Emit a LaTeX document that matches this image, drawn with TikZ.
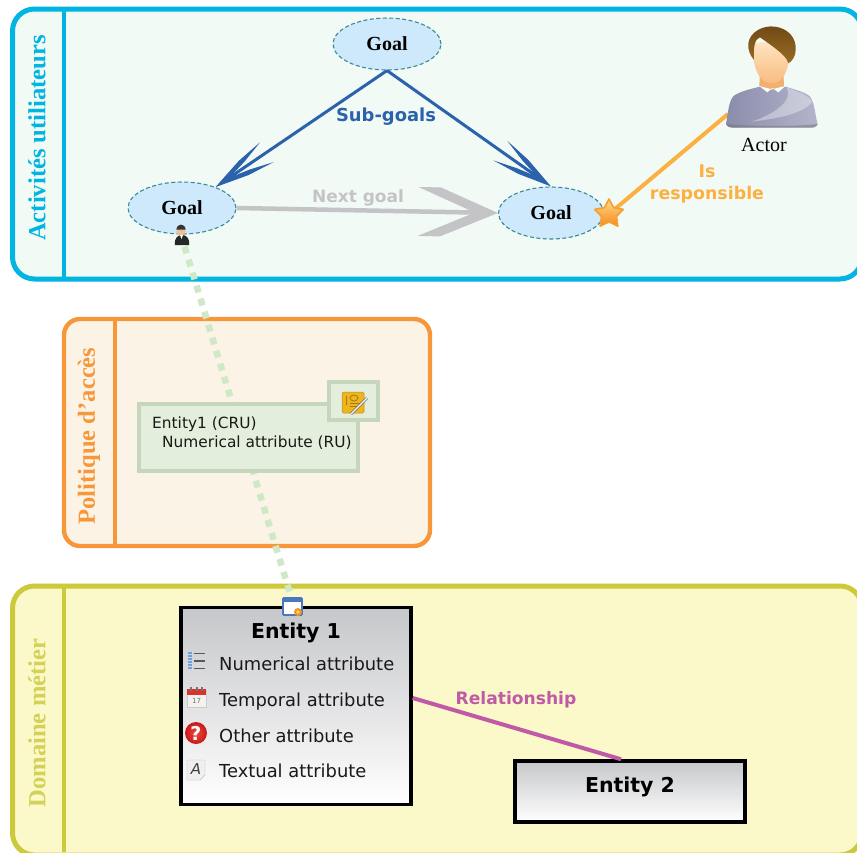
\documentclass[tikz,border=0pt]{standalone}
\usepackage{fontspec}
\setmainfont{Liberation Serif}
\newfontfamily\lsans{DejaVu Sans}
\usetikzlibrary{arrows.meta,shapes.geometric,calc}
\definecolor{cyanl}{HTML}{00B5E2}
\definecolor{orgl}{HTML}{F8973A}
\definecolor{yell}{HTML}{CCC93A}
\definecolor{blueg}{HTML}{2A62AB}
\definecolor{greyg}{HTML}{C4C4C6}
\definecolor{amber}{HTML}{FBB040}
\definecolor{magl}{HTML}{C05AA6}
\definecolor{greend}{HTML}{CFE8C5}
\newcommand{\hexcol}[1]{\definecolor{#1}{HTML}{#1}}
\hexcol{F2FAF6}\hexcol{FBF4E6}\hexcol{FBF9C9}\hexcol{FFD98A}\hexcol{F58A1E}\hexcol{F5A030}
\hexcol{8A8CAC}\hexcol{B4B5CB}\hexcol{F0B070}\hexcol{FFE6C4}\hexcol{F8BC80}\hexcol{6F4A15}
\hexcol{9A6A24}\hexcol{F0C090}\hexcol{EDB51F}\hexcol{C08A10}\hexcol{A87A10}\hexcol{4A78C0}
\hexcol{F0961E}\hexcol{FFD860}\hexcol{6F9FDC}\hexcol{F4F2EE}\hexcol{D8342C}\hexcol{F04A3F}\hexcol{C81818}\hexcol{EFEFEF}
\pgfdeclarearrow{
  name=FlatBarb,
  parameters={\the\pgfarrowlength,\the\pgfarrowwidth},
  setup code={
    \pgfarrowssettipend{0pt}
    \pgfarrowssetbackend{-\pgfarrowlength}
    \pgfarrowssetlineend{-.25\pgfarrowlength}
    \pgfarrowssavethe\pgfarrowlength
    \pgfarrowssavethe\pgfarrowwidth
  },
  drawing code={
    \pgfpathmoveto{\pgfqpoint{0pt}{0pt}}
    \pgfpathlineto{\pgfqpoint{-.72\pgfarrowlength}{.5\pgfarrowwidth}}
    \pgfpathlineto{\pgfqpoint{-\pgfarrowlength}{.5\pgfarrowwidth}}
    \pgfpathlineto{\pgfqpoint{-.29\pgfarrowlength}{0pt}}
    \pgfpathlineto{\pgfqpoint{-\pgfarrowlength}{-.5\pgfarrowwidth}}
    \pgfpathlineto{\pgfqpoint{-.72\pgfarrowlength}{-.5\pgfarrowwidth}}
    \pgfpathclose
    \pgfusepathqfill
  },
  defaults={length=80pt,width=48pt}
}
\pgfdeclarearrow{
  name=ThinBarb,
  parameters={\the\pgfarrowlength,\the\pgfarrowwidth},
  setup code={
    \pgfarrowssettipend{0pt}
    \pgfarrowssetbackend{-\pgfarrowlength}
    \pgfarrowssetlineend{-.28\pgfarrowlength}
    \pgfarrowssavethe\pgfarrowlength
    \pgfarrowssavethe\pgfarrowwidth
  },
  drawing code={
    \pgfpathmoveto{\pgfqpoint{0pt}{0pt}}
    \pgfpathlineto{\pgfqpoint{-.55\pgfarrowlength}{.36\pgfarrowwidth}}
    \pgfpathlineto{\pgfqpoint{-\pgfarrowlength}{.5\pgfarrowwidth}}
    \pgfpathlineto{\pgfqpoint{-.62\pgfarrowlength}{.2\pgfarrowwidth}}
    \pgfpathlineto{\pgfqpoint{-.27\pgfarrowlength}{0pt}}
    \pgfpathlineto{\pgfqpoint{-.62\pgfarrowlength}{-.2\pgfarrowwidth}}
    \pgfpathlineto{\pgfqpoint{-\pgfarrowlength}{-.5\pgfarrowwidth}}
    \pgfpathlineto{\pgfqpoint{-.55\pgfarrowlength}{-.36\pgfarrowwidth}}
    \pgfpathclose
    \pgfusepathqfill
  },
  defaults={length=62pt,width=24pt}
}
\definecolor{goalfill}{HTML}{CDE9FB}
\definecolor{goaledge}{HTML}{3A8A94}
\definecolor{entgrey}{HTML}{C6C7CA}
\definecolor{polgreen}{HTML}{C5D6BD}
\definecolor{polfill}{HTML}{E3EFDC}
\tikzset{
  panel/.style={line width=5pt,rounded corners=22pt},
  divider/.style={line width=4.8pt},
  sidelab/.style={rotate=90,font=\fontsize{24.6}{28}\selectfont\bfseries},
  goalnode/.style={ellipse,draw=goaledge,fill=goalfill,dash pattern=on 4pt off 2.5pt,line width=1.1pt,minimum width=108pt,minimum height=52pt,inner sep=0pt,font=\fontsize{20}{22}\selectfont\bfseries},
  sublink/.style={line width=3pt,draw=blueg,-{ThinBarb[length=62pt,width=24pt]}},
  boldlab/.style={font=\lsans\fontsize{#1}{22}\selectfont\bfseries},
  entity/.style={draw=black,line width=3.5pt,top color=entgrey,bottom color=white,minimum width=230pt,inner sep=0pt},
  enttitle/.style={font=\lsans\fontsize{20.5}{24}\selectfont\bfseries},
  attr/.style={anchor=base west,inner sep=0pt,font=\lsans\fontsize{17.9}{20}\selectfont,text=black!90},
  poltext/.style={anchor=base west,inner sep=0pt,font=\lsans\fontsize{15.4}{18}\selectfont,text=black!90},
  polbox/.style={draw=polgreen,fill=polfill,line width=4pt,inner sep=0pt},
  starnode/.style={star,star points=5,star point ratio=1.9,minimum size=30pt,inner sep=0pt,top color=FFD98A,bottom color=F58A1E,draw=F5A030,line width=1.6pt,line join=round},
}
\begin{document}
\begin{tikzpicture}[x=1pt,y=-1pt]
\useasboundingbox (0,0) rectangle (857,852);
\clip (0,0) rectangle (857,852);
\fill[white] (0,0) rectangle (857,852);
% panels
\draw[panel,draw=cyanl,fill=F2FAF6] (12.5,9) rectangle (862,279);
\draw[cyanl,divider] (64,9) -- (64,279);
\draw[panel,line width=4.4pt,draw=orgl,fill=FBF4E6,rounded corners=16pt] (64,319) rectangle (430,546);
\draw[orgl,line width=4.4pt] (115,319) -- (115,546);
\draw[panel,draw=yell,fill=FBF9C9] (12.5,586) rectangle (862,855);
\draw[yell,divider] (64,586) -- (64,852);
\node[sidelab,text=cyanl] (lab1) at (37,138) {Activités utiliateurs};
\node[sidelab,text=orgl] (lab2) at (89,436) {Politique d’accès};
\node[sidelab,text=yell!85!white] (lab3) at (37,723) {Domaine métier};
% dotted connector behind the access box
\coordinate (pers) at (182,238);
\coordinate (e1port) at (292,600);
\draw[greend,line width=6.5pt,dash pattern=on 7pt off 6.6pt,dash phase=4.6pt] (pers) -- (e1port);
% goals
\node[goalnode] (g1) at (387,44) {Goal};
\node[goalnode] (g2) at (182,208) {Goal};
\node[goalnode,minimum width=105pt] (g3) at (551,213) {Goal};
\draw[sublink] (g1.south) -- (g2.32);
\draw[sublink] (g1.south) -- (g3.north);
\draw[greyg,line width=4.5pt,-{FlatBarb[length=80pt,width=49pt]}] (g2.east) -- (g3.west);
\node[boldlab=17.9,text=blueg] (lsub) at (386,117) {Sub-goals};
\node[boldlab=17,text=greyg] (lnext) at (358,198) {Next goal};
% star + responsibility
\coordinate (hand) at (728,114);
\coordinate (stc) at (609,214);
\draw[amber,line width=4pt] (hand) -- (stc);
\node[starnode] (st) at (stc) {};
\node[text=amber,align=center,boldlab=17.4] (lresp) at (707,184) {Is\\responsible};
% actor picture
\begin{scope}[shift={(680,0)},x=.3333pt,y=-.3333pt]
  \path[left color=8A8CAC,right color=B4B5CB] (138,372) .. controls (145,330) and (148,295) .. (165,285) .. controls (190,270) and (225,265) .. (245,258) -- (310,258) .. controls (340,268) and (375,275) .. (390,290) .. controls (405,310) and (405,345) .. (413,372) .. controls (410,382) and (400,383) .. (390,383) -- (160,383) .. controls (150,383) and (140,380) .. (138,372) -- cycle;
  \fill[white,opacity=.35] (215,365) .. controls (300,355) and (370,340) .. (397,305) .. controls (385,285) and (350,272) .. (320,263) .. controls (340,300) and (290,340) .. (215,365) -- cycle;
  \fill[black!55,opacity=.5] (140,372) .. controls (145,382) and (150,383) .. (160,383) -- (390,383) .. controls (400,383) and (410,382) .. (413,372) .. controls (350,380) and (200,380) .. (140,372) -- cycle;
  \fill[F0B070] (240,215) -- (310,215) -- (312,258) -- (275,270) -- (238,258) -- cycle;
  \fill[white] (238,258) -- (262,277) -- (277,264) -- (295,277) -- (316,258) -- (275,268) -- cycle;
  \path[top color=FFE6C4,bottom color=F8BC80] (220,130) .. controls (215,190) and (232,250) .. (275,250) .. controls (310,250) and (325,210) .. (327,170) -- (300,120) -- cycle;
  \path[top color=6F4A15,bottom color=9A6A24] (205,130) .. controls (210,95) and (250,75) .. (285,80) .. controls (325,85) and (350,115) .. (347,150) .. controls (347,170) and (335,185) .. (325,190) .. controls (320,170) and (295,150) .. (240,112) .. controls (225,118) and (220,135) .. (222,180) .. controls (210,165) and (203,150) .. (205,130) -- cycle;
\end{scope}
\node[font=\fontsize{20}{22}\selectfont] (lactor) at (764,145) {Actor};
% small person at the goal
\fill[black!85] (175,245) .. controls (174,238) and (178,235) .. (182,235) .. controls (186,235) and (190,238) .. (189,245) -- cycle;
\fill[F0C090] (181,231) circle (4.6pt);
\fill[black!80] (176.4,229.5) .. controls (177,223) and (185,223) .. (185.6,229.5) -- cycle;
\fill[white] (180,235) -- (183,235) -- (181.5,239) -- cycle;
% access policy
\node[polbox,minimum width=219pt,minimum height=67pt] (pol) at (248.5,437.5) {};
\node[polbox,minimum width=49pt,minimum height=38pt] (polic) at (353.5,401) {};
\fill[EDB51F,draw=C08A10,line width=.5pt,rounded corners=1.5pt] (342,392) rectangle (364,413);
\draw[A87A10,line width=.8pt] (346,396) -- (346,405) (350,403) -- (360,403) (350,406) -- (358,406);
\draw[A87A10,line width=.8pt] (354,398) ellipse (4pt and 3pt);
\draw[black!60,line width=2.6pt] (351,414) -- (367,398);
\draw[white,line width=1.2pt] (351,414) -- (367,398);
\node[poltext] (pol1) at (152,428.5) {Entity1 (CRU)};
\node[poltext] (pol2) at (162,447.5) {Numerical attribute (RU)};
% entities
\node[entity,minimum height=197pt] (e1) at (296,706) {};
\node[entity,minimum height=61pt] (e2) at (630,791.5) {};
\draw[magl,line width=4pt] ([yshift=8pt]e1.east) -- ([xshift=-9pt]e2.north);
\node[boldlab=17.1,text=magl] (lrel) at (516,700) {Relationship};
\node[enttitle] (e1t) at (296,633) {Entity 1};
\node[enttitle] (e2t) at (630,787) {Entity 2};
\node[attr] (a1) at (219,670) {Numerical attribute};
\node[attr] (a2) at (219,706) {Temporal attribute};
\node[attr] (a3) at (219,742) {Other attribute};
\node[attr] (a4) at (219,777) {Textual attribute};
% entity icon
\draw[4A78C0,line width=1.6pt,fill=white,rounded corners=.8pt] (283,598) rectangle (302,615);
\fill[4A78C0] (283,598) rectangle (302,601.5);
\fill[F0961E] (298,612) circle (4pt);
\fill[FFD860] (298,612) circle (1.8pt);
% numeric icon
\foreach \yy in {653.5,661,668.5} \draw[black!65,line width=1.1pt] (194,\yy) -- (205,\yy);
\foreach \yy in {653,656,659,662,665,668} \draw[6F9FDC,line width=1.6pt] (187.5,\yy) -- (191.5,\yy);
% calendar icon
\fill[F4F2EE,draw=black!20,line width=.4pt] (187,690) rectangle (206,707);
\fill[D8342C] (187,689) rectangle (206,695);
\foreach \xa/\xb in {190/192,195.5/197.5,201/203} \fill[black!55] (\xa,686.5) rectangle (\xb,691);
\node[font=\lsans\fontsize{7}{8}\selectfont,text=black!55,inner sep=0pt] (cal) at (196.5,701) {17};
% question icon
\node[circle,minimum size=22pt,inner sep=0pt,inner color=F04A3F,outer color=C81818,font=\lsans\fontsize{19}{20}\selectfont\bfseries,text=white] (q) at (196,733) {?};
% textual icon
\fill[EFEFEF,draw=black!25,line width=.4pt] (187,760) -- (205,760) -- (205,775) -- (200,780) -- (187,780) -- cycle;
\node[font=\lsans\fontsize{15}{16}\selectfont\itshape,text=black!75,inner sep=0pt] (atxt) at (196,769) {A};
\end{tikzpicture}
\end{document}
